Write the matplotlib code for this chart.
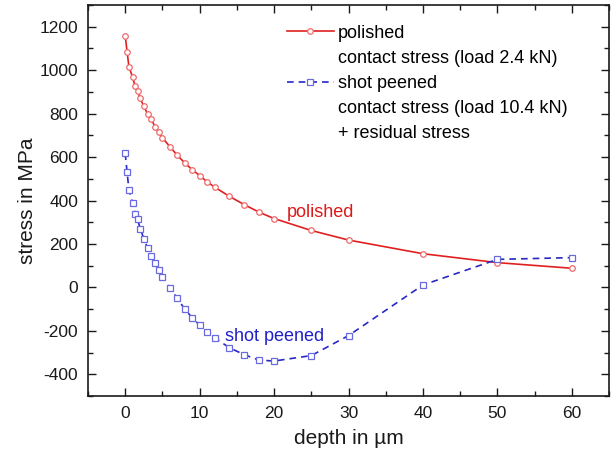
import matplotlib
matplotlib.use("Agg")
import matplotlib.pyplot as plt
from matplotlib.lines import Line2D
from matplotlib.ticker import MultipleLocator

plt.rcParams['font.family'] = ['Liberation Sans', 'DejaVu Sans']
plt.rcParams['axes.unicode_minus'] = False

# depth below surface (µm)
depth = [0, 0.25, 0.5, 1, 1.33, 1.67, 2, 2.5, 3, 3.5, 4, 4.5, 5, 6, 7, 8, 9,
         10, 11, 12, 14, 16, 18, 20, 25, 30, 40, 50, 60]

# polished: contact stress at 2.4 kN
polished = [1159, 1086, 1016, 967, 926, 904, 871, 834, 799, 774, 740, 715, 689,
            648, 608, 573, 542, 515, 486, 462, 419, 381, 346, 317,
            262, 218, 155, 114, 88]

# shot peened: contact stress at 10.4 kN plus residual stress
shot_peened = [617, 532, 450, 388, 340, 313, 271, 225, 182, 145, 112, 80, 50,
               -5, -49, -101, -139, -174, -205, -231, -278, -310, -335, -339,
               -314, -222, 11, 129, 137]

legend_labels = ["polished", "contact stress (load 2.4 kN)",
                 "shot peened", "contact stress (load 10.4 kN)",
                 "+ residual stress"]

red_line = '#e02020'
red_mark = '#ee6a6a'
blue_line = '#2828c8'
blue_mark = '#6a6ae0'

fig = plt.figure(figsize=(6.14, 4.57), dpi=100)
ax = fig.add_axes([0.1433, 0.1335, 0.8486, 0.8555])

l1, = ax.plot(depth, polished, '-', color=red_line, lw=1.2,
              marker='o', ms=4, mfc='white', mec=red_mark, mew=0.9)
l2, = ax.plot(depth, shot_peened, '--', color=blue_line, lw=1.2,
              dashes=(4, 3), marker='s', ms=3.8, mfc='white',
              mec=blue_mark, mew=0.9)

ax.set_xlim(-5, 65)
ax.set_ylim(-500, 1300)
ax.xaxis.set_major_locator(MultipleLocator(10))
ax.xaxis.set_minor_locator(MultipleLocator(5))
ax.yaxis.set_major_locator(MultipleLocator(200))
ax.yaxis.set_minor_locator(MultipleLocator(100))
ax.tick_params(which='both', direction='in', top=True, right=True,
               labelsize=12.5, colors='#1a1a1a', width=1.0)
ax.tick_params(which='major', length=6, pad=7)
ax.tick_params(which='minor', length=3.5)
for s in ax.spines.values():
    s.set_linewidth(1.2)
    s.set_color('#1a1a1a')

ax.set_xlabel("depth in µm", fontsize=15, color='#1a1a1a', labelpad=6)
ax.set_ylabel("stress in MPa", fontsize=15, color='#1a1a1a', labelpad=2)

ax.text(21.7, 347, "polished", color='#e01818', fontsize=13,
        ha='left', va='center')
ax.text(13.4, -225, "shot peened", color='#2020c8', fontsize=13,
        ha='left', va='center')

blank = Line2D([], [], linestyle='none')
ax.legend([l1, blank, l2, blank, blank], legend_labels,
          loc='upper left', bbox_to_anchor=(0.382, 0.95), frameon=False,
          fontsize=13, numpoints=1, handlelength=2.6, handletextpad=0.2,
          labelspacing=0.45, borderaxespad=0, borderpad=0)

fig.savefig("out.png", dpi=100)
